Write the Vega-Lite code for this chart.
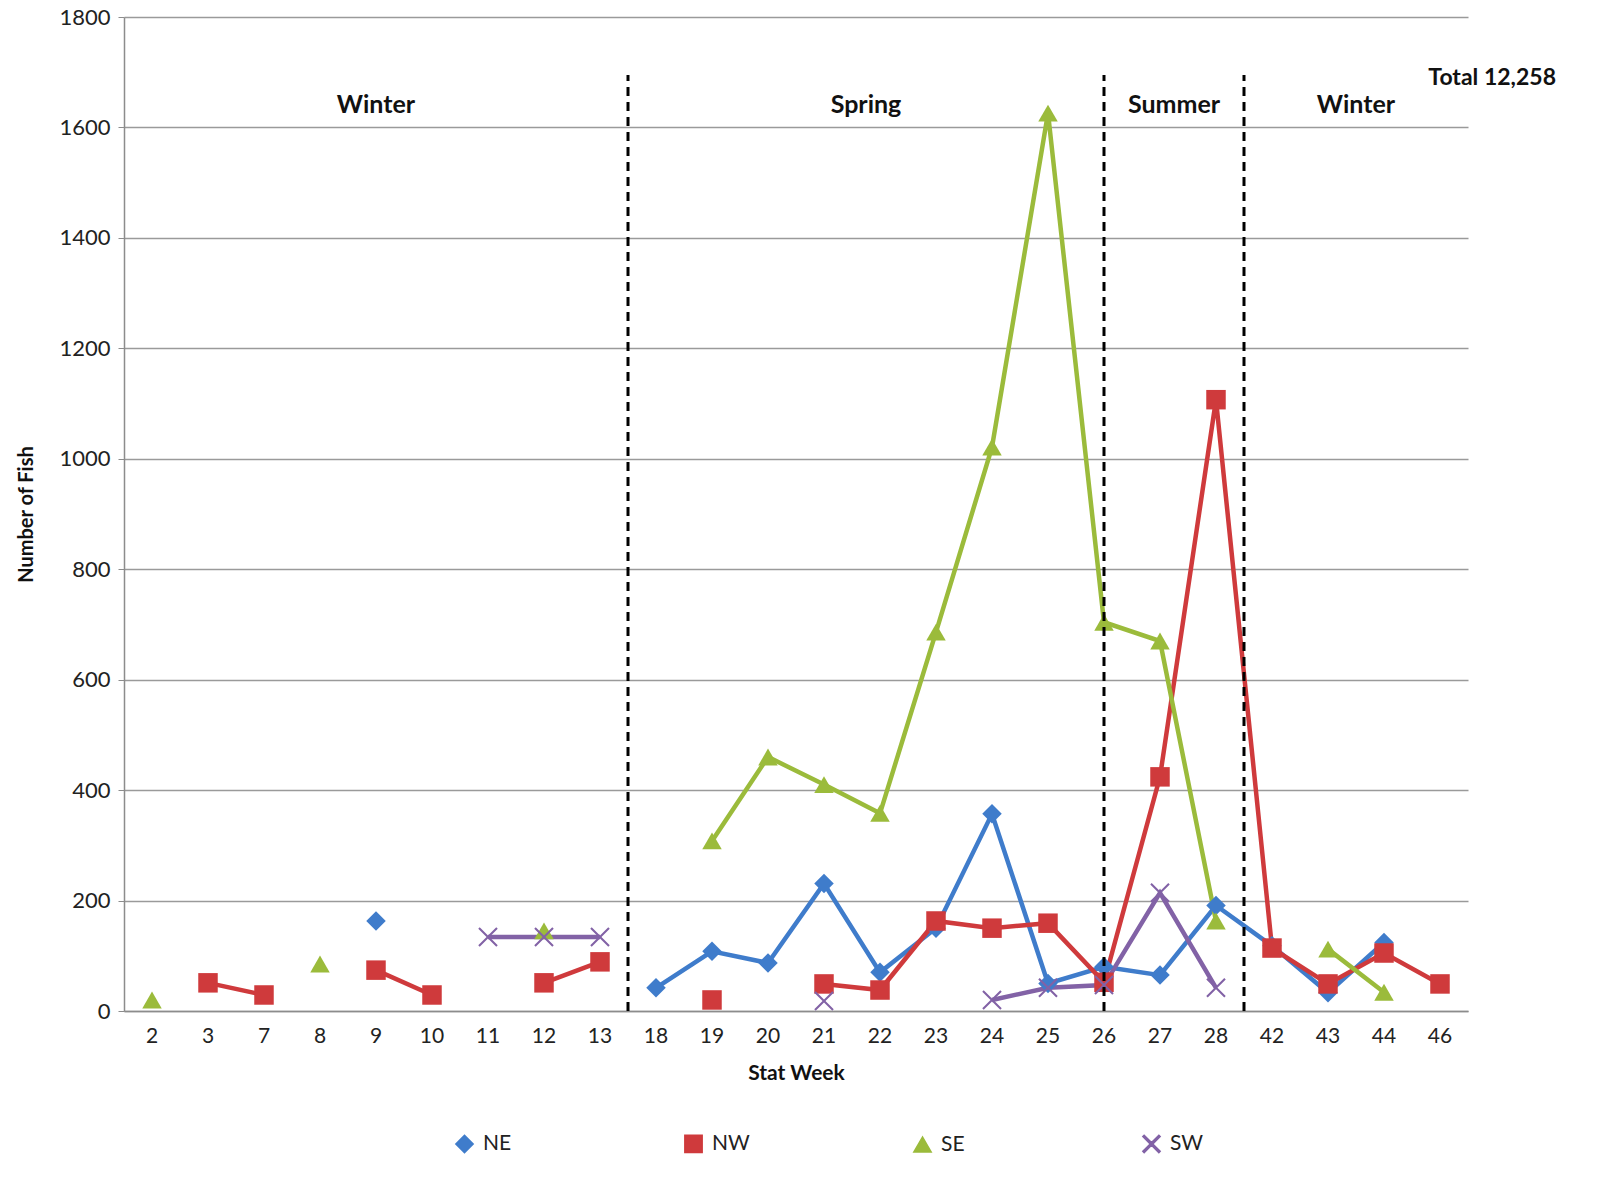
{
  "$schema": "https://vega.github.io/schema/vega-lite/v6.json",
  "width": 1344,
  "height": 994,
  "autosize": "none",
  "padding": {"left": 124, "top": 17, "right": 138, "bottom": 175},
  "background": "white",
  "config": {
    "font": "Lato",
    "view": {"stroke": null},
    "axis": {"labelFont": "Lato", "titleFont": "Lato", "labelColor": "#222", "titleColor": "#111"}
  },
  "datasets": {
    "fish": [
      {"week": 2, "region": "NE", "fish": null}, {"week": 3, "region": "NE", "fish": null}, {"week": 7, "region": "NE", "fish": null}, {"week": 8, "region": "NE", "fish": null},
      {"week": 9, "region": "NE", "fish": 163}, {"week": 10, "region": "NE", "fish": null}, {"week": 11, "region": "NE", "fish": null}, {"week": 12, "region": "NE", "fish": null},
      {"week": 13, "region": "NE", "fish": null}, {"week": 18, "region": "NE", "fish": 42}, {"week": 19, "region": "NE", "fish": 108}, {"week": 20, "region": "NE", "fish": 87},
      {"week": 21, "region": "NE", "fish": 231}, {"week": 22, "region": "NE", "fish": 70}, {"week": 23, "region": "NE", "fish": 150}, {"week": 24, "region": "NE", "fish": 357},
      {"week": 25, "region": "NE", "fish": 50}, {"week": 26, "region": "NE", "fish": 80}, {"week": 27, "region": "NE", "fish": 65}, {"week": 28, "region": "NE", "fish": 191},
      {"week": 42, "region": "NE", "fish": 118}, {"week": 43, "region": "NE", "fish": 33}, {"week": 44, "region": "NE", "fish": 124}, {"week": 46, "region": "NE", "fish": null},

      {"week": 2, "region": "NW", "fish": null}, {"week": 3, "region": "NW", "fish": 51}, {"week": 7, "region": "NW", "fish": 29}, {"week": 8, "region": "NW", "fish": null},
      {"week": 9, "region": "NW", "fish": 74}, {"week": 10, "region": "NW", "fish": 29}, {"week": 11, "region": "NW", "fish": null}, {"week": 12, "region": "NW", "fish": 51},
      {"week": 13, "region": "NW", "fish": 89}, {"week": 18, "region": "NW", "fish": null}, {"week": 19, "region": "NW", "fish": 20}, {"week": 20, "region": "NW", "fish": null},
      {"week": 21, "region": "NW", "fish": 49}, {"week": 22, "region": "NW", "fish": 38}, {"week": 23, "region": "NW", "fish": 163}, {"week": 24, "region": "NW", "fish": 150},
      {"week": 25, "region": "NW", "fish": 159}, {"week": 26, "region": "NW", "fish": 52}, {"week": 27, "region": "NW", "fish": 424}, {"week": 28, "region": "NW", "fish": 1107},
      {"week": 42, "region": "NW", "fish": 114}, {"week": 43, "region": "NW", "fish": 49}, {"week": 44, "region": "NW", "fish": 105}, {"week": 46, "region": "NW", "fish": 49},

      {"week": 2, "region": "SE", "fish": 20}, {"week": 3, "region": "SE", "fish": null}, {"week": 7, "region": "SE", "fish": null}, {"week": 8, "region": "SE", "fish": 85},
      {"week": 9, "region": "SE", "fish": null}, {"week": 10, "region": "SE", "fish": null}, {"week": 11, "region": "SE", "fish": null}, {"week": 12, "region": "SE", "fish": 145},
      {"week": 13, "region": "SE", "fish": null}, {"week": 18, "region": "SE", "fish": null}, {"week": 19, "region": "SE", "fish": 308}, {"week": 20, "region": "SE", "fish": 460},
      {"week": 21, "region": "SE", "fish": 410}, {"week": 22, "region": "SE", "fish": 358}, {"week": 23, "region": "SE", "fish": 686}, {"week": 24, "region": "SE", "fish": 1021},
      {"week": 25, "region": "SE", "fish": 1626}, {"week": 26, "region": "SE", "fish": 704}, {"week": 27, "region": "SE", "fish": 670}, {"week": 28, "region": "SE", "fish": 163},
      {"week": 42, "region": "SE", "fish": null}, {"week": 43, "region": "SE", "fish": 112}, {"week": 44, "region": "SE", "fish": 34}, {"week": 46, "region": "SE", "fish": null},

      {"week": 2, "region": "SW", "fish": null}, {"week": 3, "region": "SW", "fish": null}, {"week": 7, "region": "SW", "fish": null}, {"week": 8, "region": "SW", "fish": null},
      {"week": 9, "region": "SW", "fish": null}, {"week": 10, "region": "SW", "fish": null}, {"week": 11, "region": "SW", "fish": 134}, {"week": 12, "region": "SW", "fish": 134},
      {"week": 13, "region": "SW", "fish": 134}, {"week": 18, "region": "SW", "fish": null}, {"week": 19, "region": "SW", "fish": null}, {"week": 20, "region": "SW", "fish": null},
      {"week": 21, "region": "SW", "fish": 18}, {"week": 22, "region": "SW", "fish": null}, {"week": 23, "region": "SW", "fish": null}, {"week": 24, "region": "SW", "fish": 20},
      {"week": 25, "region": "SW", "fish": 42}, {"week": 26, "region": "SW", "fish": 47}, {"week": 27, "region": "SW", "fish": 214}, {"week": 28, "region": "SW", "fish": 42},
      {"week": 42, "region": "SW", "fish": null}, {"week": 43, "region": "SW", "fish": null}, {"week": 44, "region": "SW", "fish": null}, {"week": 46, "region": "SW", "fish": null}
    ]
  },
  "layer": [
    {
      "data": {"name": "fish"},
      "mark": {"type": "line", "strokeWidth": 4.5, "invalid": "break-paths-show-domains"},
      "encoding": {
        "x": {"field": "week", "type": "ordinal", "sort": "ascending", "scale": {"type": "band", "paddingInner": 0, "paddingOuter": 0},
              "axis": {"title": "Stat Week", "titleFontSize": 21, "titleFontWeight": "bold", "titlePadding": 16, "labelFontSize": 21, "labelAngle": 0, "labelPadding": 14, "ticks": false, "domainColor": "#8c8c8c", "domainWidth": 1.5, "grid": false}},
        "y": {"field": "fish", "type": "quantitative", "scale": {"domain": [0, 1800], "nice": false},
              "axis": {"title": "Number of Fish", "titleFontSize": 20, "titleFontWeight": "bold", "titlePadding": 22, "labelFontSize": 22, "labelPadding": 8, "format": "d", "values": [0, 200, 400, 600, 800, 1000, 1200, 1400, 1600, 1800], "tickSize": 6, "tickColor": "#8c8c8c", "domainColor": "#8c8c8c", "domainWidth": 1.5, "gridColor": "#9a9a9a", "gridWidth": 1.5}},
        "color": {"field": "region", "type": "nominal", "title": null,
                  "scale": {"domain": ["NE", "NW", "SE", "SW"], "range": ["#3f7ccb", "#cf3a3c", "#9bbb3b", "#8262a6"]},
                  "legend": {"orient": "none", "legendX": 330, "legendY": 1116, "direction": "horizontal", "columns": 4, "columnPadding": 160, "gridAlign": "all", "labelFontSize": 21, "labelColor": "#222", "symbolSize": 300, "labelOffset": 8}}
      }
    },
    {
      "data": {"name": "fish"},
      "transform": [{"filter": "isValid(datum.fish)"}],
      "mark": {"type": "point", "filled": true, "opacity": 1},
      "encoding": {
        "x": {"field": "week", "type": "ordinal", "sort": "ascending"},
        "y": {"field": "fish", "type": "quantitative"},
        "color": {"field": "region", "type": "nominal", "title": null},
        "shape": {"field": "region", "type": "nominal", "title": null,
                  "scale": {"domain": ["NE", "NW", "SE", "SW"], "range": ["diamond", "square", "triangle-up", "M-1,-0.85L-0.85,-1L0,-0.15L0.85,-1L1,-0.85L0.15,0L1,0.85L0.85,1L0,0.15L-0.85,1L-1,0.85L-0.15,0Z"]}},
        "size": {"value": 380}
      }
    },
    {
      "data": {"values": [{"week": 18}, {"week": 42}]},
      "mark": {"type": "rule", "strokeDash": [9, 6], "strokeWidth": 3, "color": "black"},
      "encoding": {
        "x": {"field": "week", "type": "ordinal", "bandPosition": 0},
        "y": {"datum": 0},
        "y2": {"datum": 1695}
      }
    },
    {
      "data": {"values": [{"week": 26}]},
      "mark": {"type": "rule", "strokeDash": [9, 6], "strokeWidth": 3, "color": "black"},
      "encoding": {
        "x": {"field": "week", "type": "ordinal", "bandPosition": 0.5},
        "y": {"datum": 0},
        "y2": {"datum": 1695}
      }
    },
    {
      "data": {"values": [{"week": 9, "label": "Winter"}]},
      "mark": {"type": "text", "fontSize": 25, "fontWeight": "bold", "color": "#111", "align": "center", "baseline": "middle"},
      "encoding": {"x": {"field": "week", "type": "ordinal", "bandPosition": 0.5}, "y": {"datum": 1640}, "text": {"field": "label"}}
    },
    {
      "data": {"values": [{"week": 22, "label": "Spring"}]},
      "mark": {"type": "text", "fontSize": 25, "fontWeight": "bold", "color": "#111", "align": "center", "baseline": "middle"},
      "encoding": {"x": {"field": "week", "type": "ordinal", "bandPosition": 0.25}, "y": {"datum": 1640}, "text": {"field": "label"}}
    },
    {
      "data": {"values": [{"week": 27, "label": "Summer"}]},
      "mark": {"type": "text", "fontSize": 25, "fontWeight": "bold", "color": "#111", "align": "center", "baseline": "middle"},
      "encoding": {"x": {"field": "week", "type": "ordinal", "bandPosition": 0.75}, "y": {"datum": 1640}, "text": {"field": "label"}}
    },
    {
      "data": {"values": [{"week": 43, "label": "Winter"}]},
      "mark": {"type": "text", "fontSize": 25, "fontWeight": "bold", "color": "#111", "align": "center", "baseline": "middle"},
      "encoding": {"x": {"field": "week", "type": "ordinal", "bandPosition": 1}, "y": {"datum": 1640}, "text": {"field": "label"}}
    },
    {
      "data": {"values": [{"week": 46, "label": "Total 12,258"}]},
      "mark": {"type": "text", "fontSize": 23, "fontWeight": "bold", "color": "#111", "align": "right", "baseline": "middle", "dx": 88},
      "encoding": {"x": {"field": "week", "type": "ordinal", "bandPosition": 1}, "y": {"datum": 1690}, "text": {"field": "label"}}
    }
  ]
}
